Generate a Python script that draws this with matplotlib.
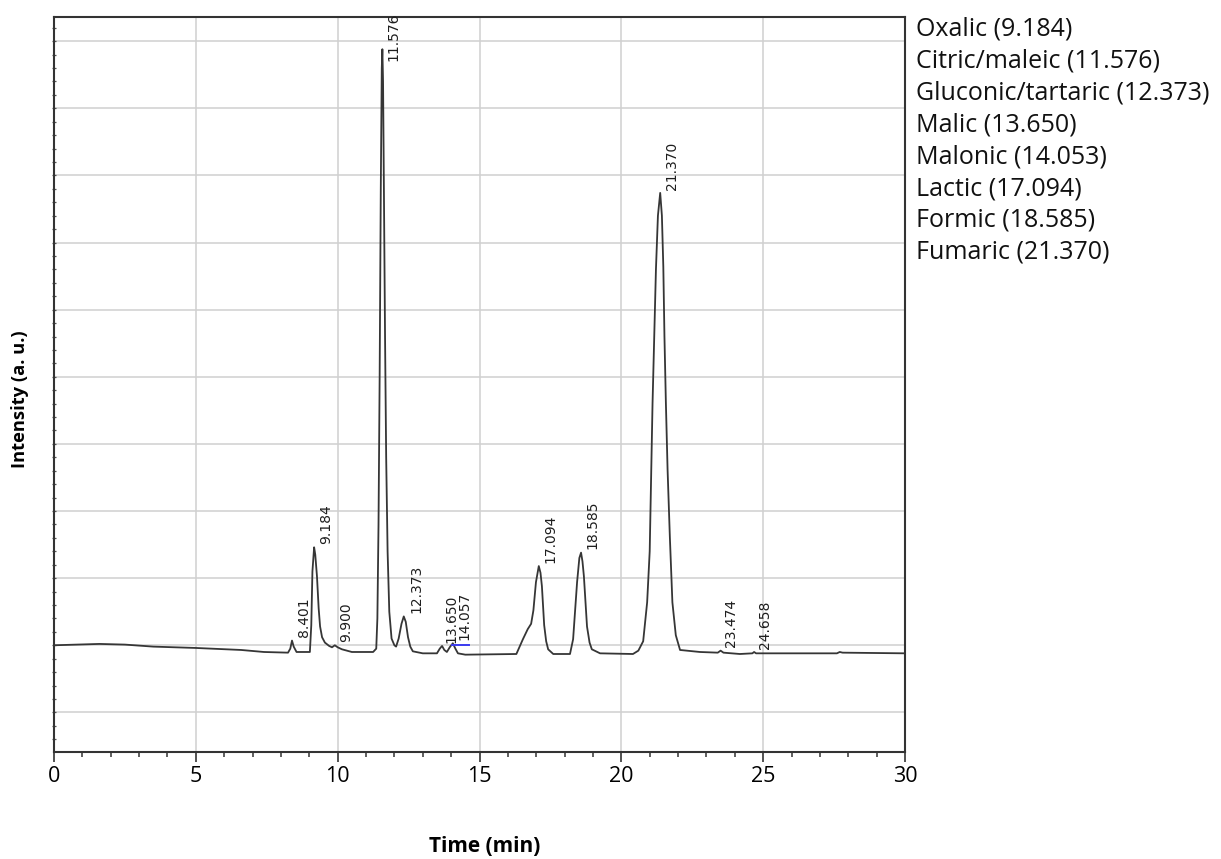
import matplotlib
matplotlib.use('Agg')
import matplotlib.pyplot as plt
from matplotlib.ticker import MultipleLocator
import numpy as np

# chromatogram trace (time in min, intensity in grid units)
time_min = [0.0, 0.8, 1.6, 2.5, 3.5, 5.0, 6.6, 7.4, 8.25, 8.33, 8.39, 8.45, 8.55,
            9.02, 9.07, 9.11, 9.17, 9.21, 9.27, 9.33, 9.38, 9.45, 9.55, 9.70, 9.80,
            9.90, 10.00, 10.15, 10.5, 11.25, 11.36, 11.40, 11.44, 11.48, 11.52,
            11.555, 11.576, 11.60, 11.63, 11.67, 11.71, 11.76, 11.82, 11.90, 12.00,
            12.06, 12.15, 12.25, 12.33, 12.40, 12.48, 12.56, 12.65, 13.0, 13.5,
            13.60, 13.68, 13.76, 13.85, 13.95, 14.06, 14.15, 14.24, 14.5, 16.3,
            16.53, 16.7, 16.82, 16.90, 16.99, 17.09, 17.15, 17.20, 17.28, 17.35,
            17.42, 17.60, 18.19, 18.30, 18.44, 18.52, 18.58, 18.63, 18.68, 18.79,
            18.88, 18.96, 19.25, 20.41, 20.60, 20.77, 20.91, 21.00, 21.05, 21.10,
            21.16, 21.22, 21.29, 21.37, 21.43, 21.48, 21.52, 21.57, 21.63, 21.71,
            21.80, 21.92, 22.07, 22.77, 23.4, 23.50, 23.60, 24.18, 24.62, 24.68,
            24.75, 25.48, 27.6, 27.7, 27.8, 30.0]
intensity = [0.00, 0.01, 0.02, 0.01, -0.02, -0.04, -0.07, -0.10, -0.11, -0.05, 0.07, -0.02, -0.10,
             -0.10, 0.30, 1.10, 1.46, 1.35, 1.03, 0.55, 0.28, 0.12, 0.04, -0.01, -0.03,
             0.00, -0.03, -0.06, -0.10, -0.10, -0.05, 0.40, 1.80, 4.00, 6.80,
             8.60, 8.88, 8.40, 6.80, 4.60, 2.80, 1.40, 0.50, 0.10, 0.00,
             -0.02, 0.10, 0.32, 0.43, 0.35, 0.12, -0.02, -0.09, -0.12, -0.12,
             -0.05, -0.01, -0.07, -0.10, -0.03, 0.03, -0.05, -0.12, -0.14, -0.13,
             0.09, 0.24, 0.32, 0.52, 0.94, 1.18, 1.08, 0.88, 0.30, 0.06,
             -0.06, -0.13, -0.13, 0.09, 0.94, 1.30, 1.38, 1.25, 1.03, 0.28,
             0.04, -0.06, -0.12, -0.13, -0.08, 0.06, 0.64, 1.40, 2.50, 3.60,
             4.60, 5.60, 6.40, 6.74, 6.40, 5.64, 4.60, 3.62, 2.62, 1.62,
             0.64, 0.15, -0.07, -0.10, -0.11, -0.08, -0.11, -0.13, -0.12, -0.10,
             -0.12, -0.12, -0.12, -0.10, -0.11, -0.12]

# integration baseline drawn in blue
blue_time = [14.03, 14.63]
blue_level = [0.0, 0.0]

peak_labels = ['8.401', '9.184', '9.900', '11.576', '12.373', '13.650', '14.057',
               '17.094', '18.585', '21.370', '23.474', '24.658']

legend_lines = ['Oxalic (9.184)', 'Citric/maleic (11.576)', 'Gluconic/tartaric (12.373)',
                'Malic (13.650)', 'Malonic (14.053)', 'Lactic (17.094)',
                'Formic (18.585)', 'Fumaric (21.370)']

W, H = 1221, 859
fig = plt.figure(figsize=(W / 100, H / 100), dpi=100)
ax = fig.add_axes([54 / W, 1 - 752 / H, (905 - 54) / W, (752 - 17) / H])

ymin, ymax = -1.59, 9.36
ax.set_xlim(0, 30)
ax.set_ylim(ymin, ymax)

for x in range(5, 30, 5):
    ax.axvline(x, color='#d0d0d0', lw=1.1, zorder=0)
for y in range(-1, 10):
    ax.axhline(y, color='#d0d0d0', lw=1.1, zorder=0)

t = np.array(time_min)
v = np.array(intensity)
ax.plot(t, v, color='#363636', lw=1.3, zorder=3)
ax.plot(blue_time, blue_level, color='#3b3bf0', lw=1.4, zorder=4)

# retention time labels next to each peak; crowded neighbours get nudged left
rts = [float(s) for s in peak_labels]
label_w = 0.42
left = [r + 0.16 for r in rts]
for i in range(len(left) - 2, -1, -1):
    limit = left[i + 1] - label_w - 0.05
    if left[i] > limit:
        left[i] = limit

for lab, rt, x0 in zip(peak_labels, rts, left):
    near = (t > rt - 0.09) & (t < rt + 0.09)
    top = v[near].max() if near.any() else np.interp(rt, t, v)
    y = top + 0.05
    va = 'bottom'
    if y + 0.78 > ymax + 0.07:
        y = ymax + 0.07
        va = 'top'
    ax.text(x0, y, lab, rotation=90, ha='left', va=va, fontsize=10,
            color='#1e1e1e', family='DejaVu Sans', clip_on=False, zorder=6)

for s in ax.spines.values():
    s.set_color('#333333')
    s.set_linewidth(1.5)

ax.set_xticks(range(0, 31, 5))
ax.xaxis.set_minor_locator(MultipleLocator(1))
ax.tick_params(axis='x', which='major', direction='out', length=7, width=1.2,
               color='#333333', labelsize=15.5, pad=3)
ax.tick_params(axis='x', which='minor', direction='out', length=3.5, width=1.1,
               color='#333333')
for lbl in ax.get_xticklabels():
    lbl.set_family('Open Sans')

ax.yaxis.set_major_locator(MultipleLocator(1))
ax.yaxis.set_minor_locator(MultipleLocator(0.2))
ax.tick_params(axis='y', which='both', direction='inout', length=3, width=0.9,
               color='#555555', labelleft=False)

fig.text(20 / W, 1 - 399 / H, 'Intensity (a. u.)', rotation=90, ha='center', va='center',
         fontsize=13.2, fontweight='bold', family='Open Sans')
fig.text(485 / W, 1 - 852 / H, 'Time (min)', ha='center', va='baseline',
         fontsize=15, fontweight='bold', family='Open Sans')

for i, line in enumerate(legend_lines):
    fig.text(916 / W, 1 - (36 + i * 31.8) / H, line, ha='left', va='baseline',
             fontsize=18, family='Open Sans', color='#111111')

fig.savefig('out.png', dpi=100, facecolor='white')
